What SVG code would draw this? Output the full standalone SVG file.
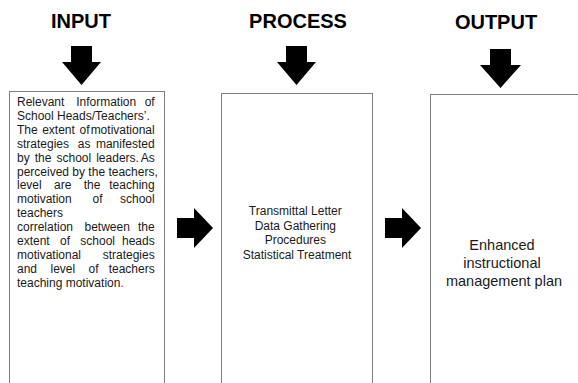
<svg xmlns="http://www.w3.org/2000/svg" width="578" height="383" viewBox="0 0 578 383">
<style>
.title{font-family:"Liberation Sans",Arial,sans-serif;font-weight:bold;font-size:20px;fill:#000;text-anchor:middle}
.box{fill:#fff;stroke:#7f7f7f;stroke-width:1}
.t{font-family:"Liberation Sans",Arial,sans-serif;font-size:12px;fill:#1a1a1a}
.c{text-anchor:middle}
.e{text-anchor:end}
.big{font-size:14.5px}
.arrow{fill:#000}
</style>
<rect width="578" height="383" fill="#fff"/>
<g id="input">
<text class="title" x="81" y="28">INPUT</text>
<rect class="box" x="9.5" y="91.5" width="155" height="300"/>
<text class="t">
<tspan x="17" y="106">Relevant</tspan><tspan x="76.2" y="106">Information</tspan><tspan class="e" x="158" y="106">of</tspan>
<tspan x="17" y="119.9">School Heads/Teachers’.</tspan>
<tspan x="17" y="133.8">The</tspan><tspan x="42.2" y="133.8">extent</tspan><tspan x="79.5" y="133.8">of</tspan><tspan class="e" x="158" y="133.8">motivational</tspan>
<tspan x="17" y="147.7">strategies</tspan><tspan x="77.8" y="147.7">as</tspan><tspan class="e" x="158" y="147.7">manifested</tspan>
<tspan x="17" y="161.6">by</tspan><tspan x="34.7" y="161.6">the</tspan><tspan x="56.5" y="161.6">school</tspan><tspan x="96.2" y="161.6">leaders.</tspan><tspan class="e" x="158" y="161.6">As</tspan>
<tspan x="17" y="175.5">perceived by the teachers,</tspan>
<tspan x="17" y="189.4">level</tspan><tspan x="54" y="189.4">are</tspan><tspan x="83.7" y="189.4">the</tspan><tspan class="e" x="158" y="189.4">teaching</tspan>
<tspan x="17" y="203.3">motivation</tspan><tspan x="92.5" y="203.3">of</tspan><tspan class="e" x="158" y="203.3">school</tspan>
<tspan x="17" y="217.2">teachers</tspan>
<tspan x="17" y="231.1">correlation</tspan><tspan x="84.5" y="231.1">between</tspan><tspan class="e" x="158" y="231.1">the</tspan>
<tspan x="17" y="245">extent</tspan><tspan x="60" y="245">of</tspan><tspan x="80.3" y="245">school</tspan><tspan class="e" x="158" y="245">heads</tspan>
<tspan x="17" y="258.9">motivational</tspan><tspan class="e" x="158" y="258.9">strategies</tspan>
<tspan x="17" y="272.8">and</tspan><tspan x="50.5" y="272.8">level</tspan><tspan x="88.6" y="272.8">of</tspan><tspan class="e" x="158" y="272.8">teachers</tspan>
<tspan x="17" y="286.7">teaching motivation</tspan><tspan fill="#e00000">.</tspan>
</text>
</g>
<g id="process">
<text class="title" x="298" y="28">PROCESS</text>
<rect class="box" x="221.5" y="93.5" width="151" height="300"/>
<text class="t c">
<tspan x="297" y="215">Transmittal Letter</tspan>
<tspan x="297" y="229.5">Data Gathering</tspan>
<tspan x="297" y="244">Procedures</tspan>
<tspan x="297" y="258.5">Statistical Treatment</tspan>
</text>
</g>
<g id="output">
<text class="title" x="496" y="29">OUTPUT</text>
<rect class="box" x="430.5" y="94.5" width="160" height="300"/>
<text class="t c big">
<tspan x="504" y="250">Enhanced</tspan>
<tspan x="504" y="268">instructional</tspan>
<tspan x="504" y="286">management plan</tspan>
</text>
</g>
<g id="connectors">
<polygon class="arrow" points="71,46 92,46 92,62 101,62 81.5,85 62,62 71,62"/>
<polygon class="arrow" points="286,46 307,46 307,62 316,62 296.5,85 277,62 286,62"/>
<polygon class="arrow" points="490,49 511,49 511,65 521,65 500.5,88 480,65 490,65"/>
<polygon class="arrow" points="177,218 194,218 194,208 213,228 194,248 194,238 177,238"/>
<polygon class="arrow" points="385,218 402,218 402,208 421,228 402,248 402,238 385,238"/>
</g>
</svg>
